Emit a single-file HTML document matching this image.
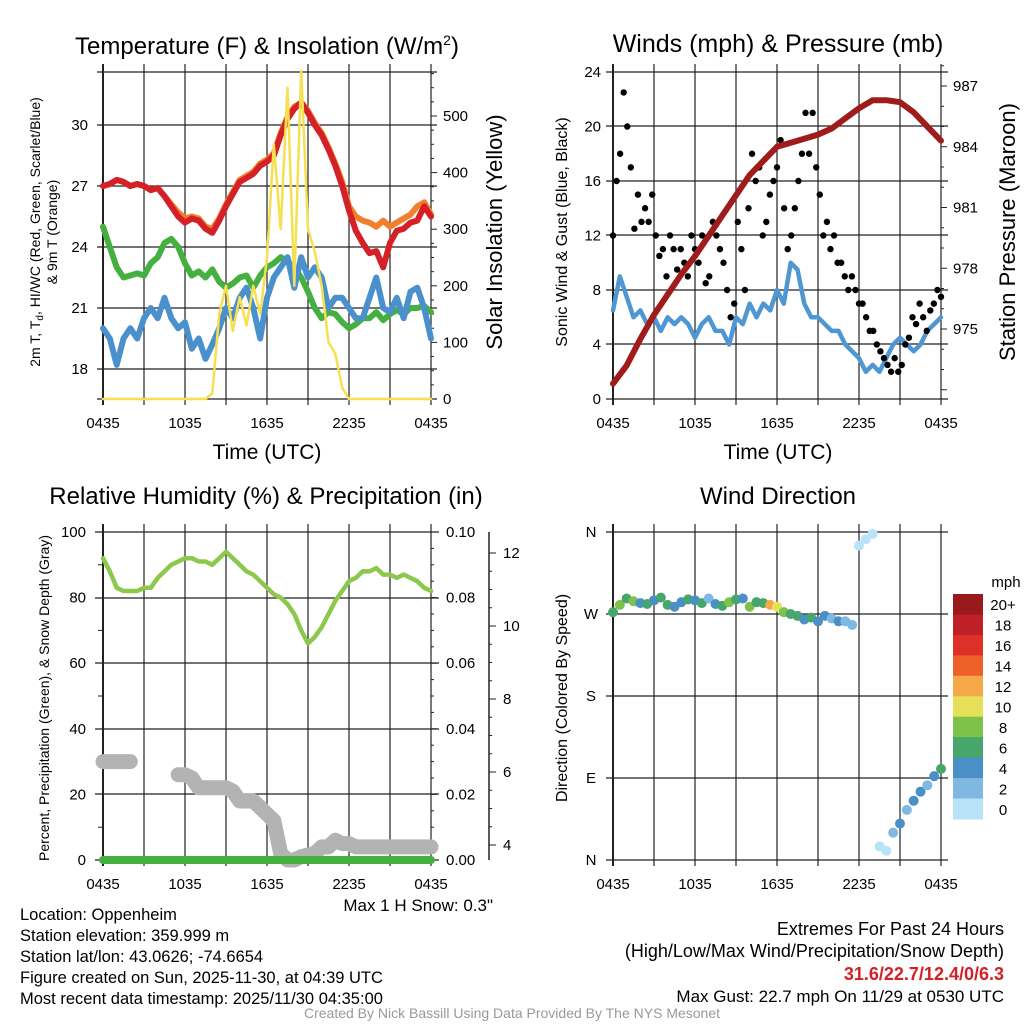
<!DOCTYPE html>
<html><head><meta charset="utf-8">
<style>
html,body{margin:0;padding:0;background:#fff;}
svg{display:block;font-family:"Liberation Sans",Arial,sans-serif;}
</style></head>
<body>
<svg id="c" width="1024" height="1024" viewBox="0 0 1024 1024"></svg>
<script>
// ===== DATA (half-hourly unless noted, 0435 -> 0435 UTC) =====
const timeTicks = ["0435","1035","1635","2235","0435"];
const tempRed = [27,27.1,27.3,27.2,27.0,27.1,27.0,26.8,26.9,26.5,26.0,25.5,25.2,25.4,25.3,24.9,24.7,25.3,26,26.6,27.2,27.4,27.6,28.0,28.2,28.5,29.5,30.3,30.8,31.1,30.6,30.0,29.5,28.8,28.0,27.0,25.8,24.8,24.2,23.7,23.8,23.0,24.2,24.8,24.9,25.2,25.3,26.0,25.5];
const tempOrange = [27,27.1,27.3,27.2,27.0,27.1,27.0,26.8,26.9,26.5,26.1,25.7,25.4,25.5,25.4,25.0,24.9,25.4,26.1,26.7,27.3,27.5,27.7,28.1,28.3,28.6,29.6,30.4,30.9,31.1,30.7,30.1,29.6,28.9,28.1,27.2,26.0,25.5,25.3,25.2,25.0,25.3,25.0,25.2,25.4,25.6,26.0,26.2,25.6];
const tempGreen = [25,24.0,23.0,22.5,22.6,22.7,22.6,23.2,23.5,24.2,24.4,24.0,23.2,22.6,22.8,22.5,22.9,22.3,22.0,22.2,22.5,22.6,22.0,22.6,23.0,23.2,23.5,23.3,23.0,22.5,21.8,21.0,20.5,20.8,20.7,20.3,20.0,20.2,20.5,20.5,20.8,20.4,20.7,20.9,20.7,21.0,21.0,21.1,20.8];
const tempBlue = [20,19.5,18.2,19.5,20,19.5,20.5,21,20.5,21.5,20.5,20,20.3,19,19.5,18.5,19.2,20,21,20.5,21.5,22,21,19.5,21.5,22.5,23,23.5,22,23.5,22.5,23,22.5,21,21.5,21.5,21,20.5,20.5,21.5,22.5,21,20.8,21.5,20.5,21.8,22,21,19.5];
const insolation = [0,0,0,0,0,0,0,0,0,0,0,0,0,0,0,0,10,150,200,120,180,130,200,150,250,450,300,550,200,580,300,260,200,100,80,20,0,0,0,0,0,0,0,0,0,0,0,0,0];
const pressure = [972.3,973.2,974.5,975.7,976.7,977.7,978.6,979.6,980.6,981.6,982.6,983.3,984.0,984.2,984.4,984.6,984.9,985.4,985.9,986.3,986.3,986.2,985.7,985.0,984.3]; // hourly
const sonicWind = [6.5,9,7.5,6,6.5,5.5,6,5,6,5.5,6,5.5,4.5,5.5,6,5,5,4,6,5.5,7,6,7,6.5,8,7,10,9.5,7,6,6,5.5,5,5,4,3.5,3,2,2.5,2,3,4,4.5,4,3.5,4,5,5.5,6];
const gusts = [12,16,18,22.5,20,17,12.5,15,13,14,13,15,12,10.5,11,9,12,11,9.5,11,10,9,12,11,10,12,8.5,9,13,12,11,10,8,6,7,13,11,8,14,18,16,17,12,13,15,16,17,19,14,11,12,14,16,18,21,18,21,17,15,12,13,11,12,10,10,9,8,9,8,7,7,6,5,5,4,3.5,3,2.5,2,3,2,2.5,4,4.5,6,5.5,7,6,5,6.5,7,8,7.5];
const rh = [92,88,83,82,82,82,83,83,86,88,90,91,92,92,91,91,90,92,94,92,90,88,87,85,83,81,80,78,75,70,66,68,71,75,79,82,85,86,88,88,89,87,87,86,87,86,85,83,82];
const snow = [30,30,30,30,30,null,null,28,null,null,null,26,26,25,22,22,22,22,22,21,18,18,18,16,14,12,2,0,0,1,1.5,2,4,4,6,5,5,4,4,4,4,4,4,4,4,4,4,4,4];
const windDir = [272,280,287,284,282,281,285,288,280,278,283,286,285,282,287,281,279,283,286,287,278,283,282,280,278,272,270,268,264,266,262,268,265,262,262,258,345,352,358,15,10,30,40,55,65,75,82,92,100];
const windSpd = [6,9,7,8,5,7,4,6,7,4,5,7,4,6,3,5,7,9,7,4,8,6,7,12,11,8,6,7,5,7,4,5,3,4,3,2,1,1,0.5,1,0.5,3,4,3,4,4,3,4,6];
const cbLabels = ["20+","18","16","14","12","10","8","6","4","2","0"];
const cbColors = ["#981a1d","#bf1f26","#dd3127","#ee6129","#f6a849","#e6e058","#7dc24a","#47a66c","#4a8fc6","#7fb9e3","#b8e3f8"];

// ===== helpers =====
const svg = document.getElementById('c');
const NS = "http://www.w3.org/2000/svg";
function mk(tag, attrs, parent){ const e=document.createElementNS(NS,tag); for(const k in attrs) e.setAttribute(k,attrs[k]); (parent||svg).appendChild(e); return e; }
function txt(s,x,y,size,anchor,parent,extra){ const t=mk('text',Object.assign({x:x,y:y,'font-size':size,'text-anchor':anchor||'middle',fill:'#000'},extra||{}),parent); t.textContent=s; return t; }
function xLin(x0,x1,n){ return i => x0 + (x1-x0)*i/(n-1); }
function yLin(v0,y0,v1,y1){ return v => y0 + (v-v0)*(y1-y0)/(v1-v0); }
function poly(xs,vals,yf,attrs,parent){ let d='',pen=false; vals.forEach((v,i)=>{ if(v===null){pen=false;return;} d+=(pen?'L':'M')+xs(i).toFixed(1)+','+yf(v).toFixed(1); pen=true; }); return mk('path',Object.assign({d:d,fill:'none','stroke-linejoin':'round','stroke-linecap':'round'},attrs),parent); }
function gridPanel(g,x0,x1,yTop,yBot,hLines,ext){
  for(let k=0;k<=8;k++){ const x=x0+(x1-x0)*k/8; mk('line',{x1:x,y1:yTop-8,x2:x,y2:yBot+6,stroke:'#222','stroke-width':k==0?2:1.2},g); }
  hLines.forEach(y=>mk('line',{x1:x0-ext,y1:y,x2:x1+ext,y2:y,stroke:'#222','stroke-width':1.2},g));
  timeTicks.forEach((t,k)=>{ const x=x0+(x1-x0)*k/4; txt(t,x,yBot+29,15,'middle',g); });
}

// ===== Panel 1: Temperature =====
(function(){
  const g=mk('g',{});  
  const X0=103,X1=431;
  const yT=yLin(30,125,18,369), yI=yLin(0,399,500,116);
  gridPanel(g,X0,X1,72,399,[72,125,186,247,308,369,399],6);
  [30,27,24,21,18].forEach(v=>txt(String(v),X0-15,yT(v)+5,15,'end',g));
  [0,100,200,300,400,500].forEach(v=>txt(String(v),X1+12,yI(v)+5,15,'start',g));
  for(let v=0;v<=575;v+=25) mk('line',{x1:X1,y1:yI(v),x2:X1+(v%100==0?6:3),y2:yI(v),stroke:'#222'},g);
  const xs=xLin(X0,X1,49);
  poly(xs,tempOrange,yT,{stroke:'#f27f2a','stroke-width':6},g);
  poly(xs,tempRed,yT,{stroke:'#d42026','stroke-width':6},g);
  poly(xs,tempGreen,yT,{stroke:'#45b040','stroke-width':6},g);
  poly(xs,tempBlue,yT,{stroke:'#4a90cd','stroke-width':6},g);
  poly(xs,insolation,yI,{stroke:'#f6e04f','stroke-width':2.5},g);
  txt('',267,54,24,'middle',g).innerHTML='Temperature (F) &amp; Insolation (W/m<tspan dy="-9" font-size="14">2</tspan><tspan dy="9">)</tspan>';
  txt('Time (UTC)',267,459,21,'middle',g);
  const yl=txt('',0,0,14,'middle',g,{transform:'translate(40,232) rotate(-90)'});
  yl.innerHTML='2m T, T<tspan dy="3" font-size="10">d</tspan><tspan dy="-3">, HI/WC (Red, Green, Scarlet/Blue)</tspan>';
  txt('& 9m T (Orange)',0,0,14,'middle',g,{transform:'translate(57,232) rotate(-90)'});
  txt('Solar Insolation (Yellow)',0,0,22,'middle',g,{transform:'translate(502,232) rotate(-90)'});
})();

// ===== Panel 2: Winds & Pressure =====
(function(){
  const g=mk('g',{});  
  const X0=613,X1=941;
  const yW=yLin(0,399,24,72), yP=yLin(975,329,987,86);
  gridPanel(g,X0,X1,72,399,[72,126,181,235,290,344,399],7);
  [0,4,8,12,16,20,24].forEach(v=>txt(String(v),X0-12,yW(v)+5,15,'end',g));
  [975,978,981,984,987].forEach(v=>txt(String(v),X1+12,yP(v)+5,15,'start',g));
  for(let v=972;v<=988;v++) mk('line',{x1:X1,y1:yP(v),x2:X1+(v%3==0?6:3),y2:yP(v),stroke:'#222'},g);
  const xs=xLin(X0,X1,49);
  poly(xs,sonicWind,yW,{stroke:'#4f97d2','stroke-width':4.5},g);
  const xg=xLin(X0,X1,gusts.length);
  gusts.forEach((v,i)=>{ const c=mk('circle',{cx:xg(i),cy:yW(v),r:3.2,fill:'#000'},g);
      });
  poly(xLin(X0,X1,25),pressure,yP,{stroke:'#a01c1c','stroke-width':6},g);
  txt('Winds (mph) & Pressure (mb)',778,52,25,'middle',g);
  txt('Time (UTC)',778,459,21,'middle',g);
  txt('Sonic Wind & Gust (Blue, Black)',0,0,16,'middle',g,{transform:'translate(567,232) rotate(-90)'});
  txt('Station Pressure (Maroon)',0,0,22,'middle',g,{transform:'translate(1015,232) rotate(-90)'});
})();

// ===== Panel 3: RH & Precip =====
(function(){
  const g=mk('g',{});  
  const X0=103,X1=431;
  const yR=yLin(0,860,100,532), yS=yLin(4,845,12,553);
  gridPanel(g,X0,X1,532,860,[532,598,663,729,794,860],8);
  [0,20,40,60,80,100].forEach(v=>txt(String(v),X0-17,yR(v)+5,15,'end',g));
  ["0.00","0.02","0.04","0.06","0.08","0.10"].forEach((s,k)=>txt(s,X1+15,yR(k*20)+5,15,'start',g));
  for(let v=0;v<=100;v+=5) mk('line',{x1:X1,y1:yR(v),x2:X1+(v%20==0?6:3),y2:yR(v),stroke:'#222'},g);
  for(let v=0;v<=100;v+=10) if(v%20) mk('line',{x1:X0-5,y1:yR(v),x2:X0,y2:yR(v),stroke:'#222'},g);
  mk('line',{x1:489,y1:532,x2:489,y2:860,stroke:'#222','stroke-width':1.5},g);
  for(let v=4;v<=12;v+=0.5){ const y=yS(v); if(y<532) continue; mk('line',{x1:489,y1:y,x2:489+(v%2==0?7:3),y2:y,stroke:'#222'},g); }
  [4,6,8,10,12].forEach(v=>txt(String(v),503,yS(v)+5,15,'start',g));
  const xs=xLin(X0,X1,49);
  poly(xs,snow,yR,{stroke:'#b3b3b3','stroke-width':15},g);
  mk('line',{x1:X0,y1:860,x2:X1,y2:860,stroke:'#45b040','stroke-width':8,'stroke-linecap':'round'},g);
  poly(xs,rh,yR,{stroke:'#8cc84b','stroke-width':4.5},g);
  txt('Relative Humidity (%) & Precipitation (in)',266,504,24,'middle',g);
  txt('Percent, Precipitation (Green), & Snow Depth (Gray)',0,0,14,'middle',g,{transform:'translate(49,698) rotate(-90)'});
  txt('Max 1 H Snow: 0.3"',493,911,17,'end',g);
})();

// ===== Panel 4: Wind Direction =====
(function(){
  const g=mk('g',{});  
  const X0=613,X1=941;
  const yD=yLin(0,860,360,532);
  gridPanel(g,X0,X1,532,860,[532,614,696,778,860],7);
  ["N","E","S","W","N"].forEach((s,k)=>txt(s,X0-22,yD(k*90)+5,15,'middle',g));
  const xs=xLin(X0,X1,49);
  windDir.forEach((d,i)=>{ const idx=Math.max(0,10-Math.min(10,Math.floor(windSpd[i]/2)));
    const c=mk('circle',{cx:xs(i),cy:yD(d),r:5,fill:cbColors[idx]},g);
      });
  txt('Wind Direction',778,504,24,'middle',g);
  txt('Direction (Colored By Speed)',0,0,16,'middle',g,{transform:'translate(567,698) rotate(-90)'});
  const cb=mk('g',{},g);  
  const h=(819-594)/11;
  cbColors.forEach((col,k)=>{ mk('rect',{x:953,y:594+k*h,width:30,height:h+0.5,fill:col},cb); txt(cbLabels[k],1003,594+k*h+h/2+6,15,'middle',cb); });
  txt('mph',1006,587,15,'middle',cb);
})();

// ===== Footer text =====
(function(){
  const g=mk('g',{});  
  ["Location: Oppenheim","Station elevation: 359.999 m","Station lat/lon: 43.0626; -74.6654","Figure created on Sun, 2025-11-30, at 04:39 UTC","Most recent data timestamp: 2025/11/30 04:35:00"].forEach((s,k)=>txt(s,20,920+k*21,16.5,'start',g));
  const r=mk('g',{});  
  txt('Extremes For Past 24 Hours',1004,935,18,'end',r);
  txt('(High/Low/Max Wind/Precipitation/Snow Depth)',1004,957,18,'end',r);
  txt('31.6/22.7/12.4/0/6.3',1004,980,18,'end',r,{fill:'#d42026','font-weight':'bold'});
  txt('Max Gust: 22.7 mph On 11/29 at 0530 UTC',1004,1002,17,'end',r);
  txt('Created By Nick Bassill Using Data Provided By The NYS Mesonet',512,1018,14,'middle',svg,{fill:'#999'});
})();
</script>
</body></html>
